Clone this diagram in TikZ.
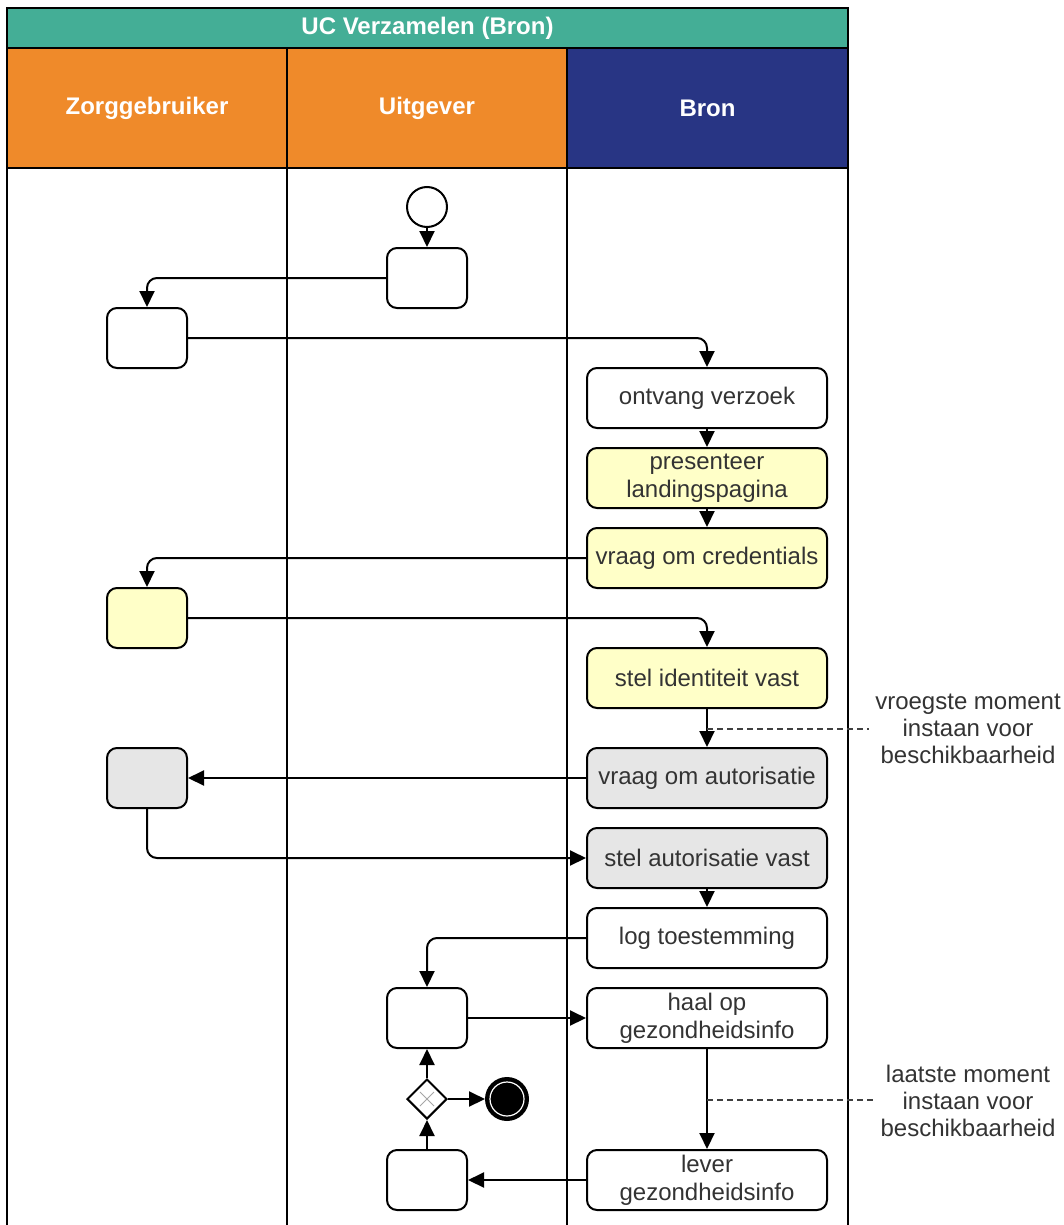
\documentclass[tikz,border=0pt]{standalone}
\usepackage{fontspec}
\setmainfont{Liberation Sans}
\usetikzlibrary{arrows.meta,shapes.geometric}
\definecolor{teal1}{HTML}{44AE96}
\definecolor{orng}{HTML}{EF8A2A}
\definecolor{navy1}{HTML}{283584}
\definecolor{yel}{HTML}{FFFFC8}
\definecolor{gry}{HTML}{E6E6E6}
\definecolor{txt}{HTML}{333333}
\begin{document}
\begin{tikzpicture}[x=1pt,y=-1pt,
  hdr/.style={draw=black, line width=2pt, inner sep=0pt, text=white, font=\fontsize{24}{27.6}\selectfont\bfseries},
  task/.style={draw=black, line width=2pt, rounded corners=10pt, fill=white, minimum width=80pt, minimum height=60pt, inner sep=0pt, font=\fontsize{24}{27.6}\selectfont, text=txt, align=center},
  big/.style={task, minimum width=240pt},
  flow/.style={line width=2pt, rounded corners=10pt, -{Triangle[length=16pt,width=15pt]}},
  note/.style={font=\fontsize{24}{27}\selectfont, text=txt, align=center, inner sep=6pt},
  marker/.style={line width=1.5pt, black!75, dash pattern=on 6pt off 4pt}
]
\useasboundingbox (0,0) rectangle (1064,1225);
% pool and lanes
\draw[line width=2pt] (7,1226) -- (7,168);
\draw[line width=2pt] (287,1226) -- (287,168);
\draw[line width=2pt] (567,1226) -- (567,168);
\draw[line width=2pt] (848,1226) -- (848,168);
\node[hdr, fill=teal1, minimum width=841pt, minimum height=40pt] (title) at (427.5,28) {UC Verzamelen (Bron)};
\node[hdr, fill=orng, minimum width=280pt, minimum height=120pt] (laneZ) at (147,108) {Zorggebruiker};
\node[hdr, fill=orng, minimum width=280pt, minimum height=120pt] (laneU) at (427,108) {Uitgever};
\node[hdr, fill=navy1, minimum width=281pt, minimum height=120pt] (laneB) at (707.5,108) {Bron};

% events and tasks
\node[circle, draw=black, fill=white, line width=2pt, minimum size=40pt, inner sep=0pt] (start) at (427,207) {};
\node[task] (u1) at (427,278) {};
\node[task] (z1) at (147,338) {};
\node[big] (rcv) at (707,398) {ontvang verzoek};
\node[big, fill=yel] (pres) at (707,478) {presenteer\\landingspagina};
\node[big, fill=yel] (cred) at (707,558) {vraag om credentials};
\node[task, fill=yel] (z2) at (147,618) {};
\node[big, fill=yel] (ident) at (707,678) {stel identiteit vast};
\node[big, fill=gry] (askaut) at (707,778) {vraag om autorisatie};
\node[task, fill=gry] (z3) at (147,778) {};
\node[big, fill=gry] (setaut) at (707,858) {stel autorisatie vast};
\node[big] (logt) at (707,938) {log toestemming};
\node[task] (u2) at (427,1018) {};
\node[big] (fetch) at (707,1018) {haal op\\gezondheidsinfo};
\node[diamond, aspect=1, draw=black, fill=white, line width=2pt, minimum width=40pt, minimum height=40pt, inner sep=0pt] (gw) at (427,1099) {};
\draw[black!35, line width=1pt] ([shift={(-7,-7)}]gw.center) -- ([shift={(7,7)}]gw.center);
\draw[black!35, line width=1pt] ([shift={(-7,7)}]gw.center) -- ([shift={(7,-7)}]gw.center);
\node[circle, draw=black, fill=black, line width=2pt, minimum size=42pt, inner sep=0pt] (endev) at (507,1099) {};
\draw[white, line width=1.2pt] (endev.center) circle[radius=17pt];
\node[task] (u3) at (427,1180) {};
\node[big] (deliver) at (707,1180) {lever\\gezondheidsinfo};

% flows
\draw[flow] (start) -- (u1);
\draw[flow] (u1.west) -| (z1.north);
\draw[flow] (z1.east) -| (rcv.north);
\draw[flow] (rcv) -- (pres);
\draw[flow] (pres) -- (cred);
\draw[flow] (cred.west) -| (z2.north);
\draw[flow] (z2.east) -| (ident.north);
\draw[flow] (ident) -- (askaut);
\draw[flow] (askaut.west) -- (z3.east);
\draw[flow] (z3.south) |- (setaut.west);
\draw[flow] (setaut) -- (logt);
\draw[flow] (logt.west) -| (u2.north);
\draw[flow] (u2.east) -- (fetch.west);
\draw[flow] (fetch) -- (deliver);
\draw[flow] (deliver.west) -- (u3.east);
\draw[flow] (u3) -- (gw);
\draw[flow] (gw) -- (u2);
\draw[flow] (gw) -- (endev);

% annotations
\node[note] (n1) at (968,729) {vroegste moment\\instaan voor\\beschikbaarheid};
\node[note] (n2) at (968,1101) {laatste moment\\instaan voor\\beschikbaarheid};
\coordinate (m1) at (707,729);
\coordinate (m2) at (707,1100);
\draw[marker] (m1) -- (n1.west |- m1);
\draw[marker] (m2) -- (n2.west |- m2);
\end{tikzpicture}
\end{document}
